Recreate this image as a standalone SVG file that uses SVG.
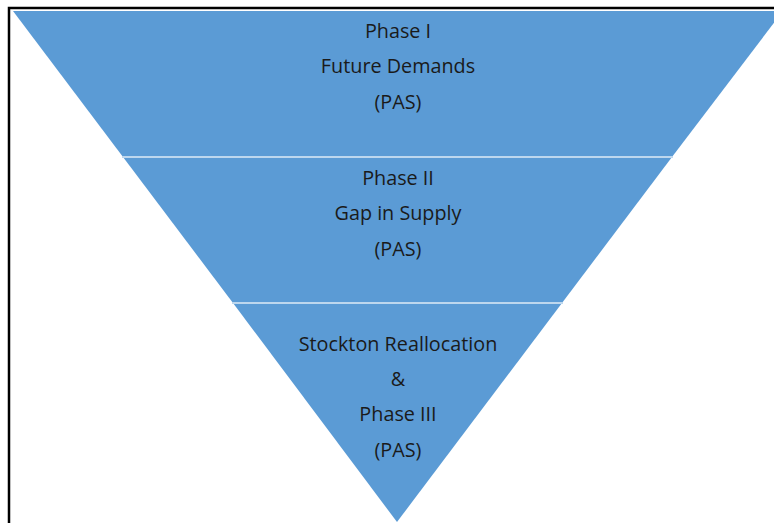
<svg xmlns="http://www.w3.org/2000/svg" width="774" height="523" viewBox="0 0 774 523">
<style>
.band{fill:#5B9BD5}
.sep{stroke:#BDD7EE;stroke-width:2}
.t{font-family:"Open Sans","Liberation Sans",sans-serif;font-size:19.8px;fill:#1a1a1a;text-anchor:middle}
</style>
<rect width="774" height="523" fill="#ffffff"/>
<path d="M9 523 V8 H774" fill="none" stroke="#000" stroke-width="2.5"/>
<g id="phase1">
<polygon class="band" points="13,11 783,11 672,157 123,157"/>
<text class="t" x="398" y="38">Phase I</text>
<text class="t" x="398" y="73">Future Demands</text>
<text class="t" x="398" y="109">(PAS)</text>
</g>
<g id="phase2">
<polygon class="band" points="123,157 672,157 562,303 233,303"/>
<text class="t" x="398" y="185">Phase II</text>
<text class="t" x="398" y="220">Gap in Supply</text>
<text class="t" x="398" y="256">(PAS)</text>
</g>
<g id="phase3">
<polygon class="band" points="233,303 562,303 397,522"/>
<text class="t" x="398" y="351">Stockton Reallocation</text>
<text class="t" x="398" y="386">&amp;</text>
<text class="t" x="398" y="421">Phase III</text>
<text class="t" x="398" y="457">(PAS)</text>
</g>
<g id="connectors">
<line class="sep" x1="122" y1="157" x2="673" y2="157"/>
<line class="sep" x1="232" y1="303" x2="563" y2="303"/>
</g>
</svg>
